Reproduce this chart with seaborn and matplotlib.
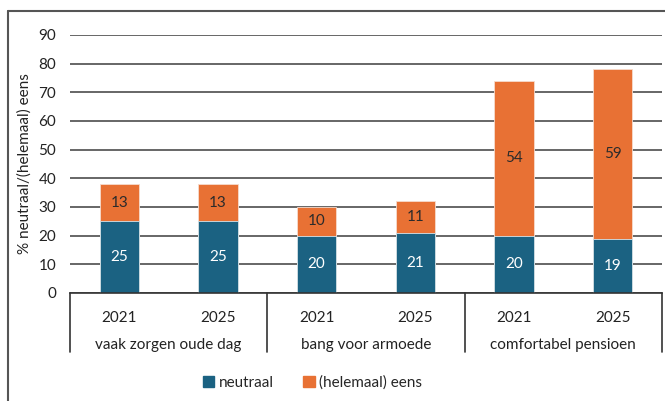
import pandas as pd
import matplotlib.pyplot as plt
from matplotlib.patches import Patch
from matplotlib.lines import Line2D
import seaborn as sns

# data
categories = ["vaak zorgen oude dag", "bang voor armoede", "comfortabel pensioen"]
years = ["2021", "2025"]
neutraal = [25, 25, 20, 21, 20, 19]
eens = [13, 13, 10, 11, 54, 59]

blauw = "#1b6282"
oranje = "#e87134"
fs = 11

sns.set_theme(style="white")
plt.rcParams['font.family'] = ['Lato', 'DejaVu Sans']

rows = []
for i, cat in enumerate(categories):
    for j, yr in enumerate(years):
        k = i * len(years) + j
        rows.append({"groep": f"{cat} {yr}", "jaar": yr,
                     "neutraal": neutraal[k], "eens": eens[k]})
df = pd.DataFrame(rows)
df["totaal"] = df["neutraal"] + df["eens"]

fig = plt.figure(figsize=(6.65, 4.01), dpi=100)
ax = fig.add_axes([70 / 665, 1 - 293 / 401, 592 / 665, 258 / 401])

# stacked bars: total in orange, neutral drawn over it
sns.barplot(data=df, x="groep", y="totaal", color=oranje, width=0.4, saturation=1,
            edgecolor="#f6dccd", linewidth=0.6, ax=ax)
sns.barplot(data=df, x="groep", y="neutraal", color=blauw, width=0.4, saturation=1,
            edgecolor="#d6e4ea", linewidth=0.6, ax=ax)

for i, row in df.iterrows():
    ax.text(i, row["neutraal"] / 2, str(row["neutraal"]), ha="center", va="center",
            color="white", fontsize=fs)
    ax.text(i, row["neutraal"] + row["eens"] / 2, str(row["eens"]), ha="center",
            va="center", color="#2b2b2b", fontsize=fs)

ax.set_ylim(0, 90)
ax.set_xlim(-0.5, len(df) - 0.5)
ax.set_yticks(range(0, 91, 10))
ax.yaxis.grid(True, color="#4d4d4d", linewidth=1.2)
ax.set_axisbelow(True)
for s in ["top", "right", "left"]:
    ax.spines[s].set_visible(False)
ax.spines["bottom"].set_color("#333333")
ax.spines["bottom"].set_linewidth(1.2)

ax.set_xticks(range(len(df)))
ax.set_xticklabels(df["jaar"])
ax.tick_params(axis="y", length=0, pad=10, labelsize=fs, labelcolor="#222222")
ax.tick_params(axis="x", length=0, pad=13, labelsize=fs, labelcolor="#222222")
ax.set_xlabel("")
ax.set_ylabel("% neutraal/(helemaal) eens", fontsize=fs, color="#222222")
ax.yaxis.set_label_coords(-38 / 592, 0.5)

# category labels and separators under the axis
tr = ax.get_xaxis_transform()
for i, cat in enumerate(categories):
    ax.text(i * 2 + 0.5, -52 / 258, cat, transform=tr, ha="center", va="center",
            fontsize=fs, color="#222222")
for x in [-0.5, 1.5, 3.5, 5.5]:
    ax.plot([x, x], [0, -59 / 258], transform=tr, color="#333333", lw=1.2, clip_on=False)

# frame around the figure (left and top visible)
fig.add_artist(Line2D([8 / 665, 8 / 665], [0, 1 - 11 / 401], transform=fig.transFigure,
                      color="#555555", lw=1.5))
fig.add_artist(Line2D([8 / 665, 1], [1 - 11 / 401, 1 - 11 / 401], transform=fig.transFigure,
                      color="#555555", lw=1.5))

handles = [Patch(color=blauw), Patch(color=oranje)]
fig.legend(handles, ["neutraal", "(helemaal) eens"], loc="center",
           bbox_to_anchor=(0.47, 1 - 383 / 401), ncol=2, frameon=False,
           handlelength=0.75, handleheight=0.75, handletextpad=0.3,
           columnspacing=1.9, fontsize=fs)

fig.savefig("out.png", dpi=100)
